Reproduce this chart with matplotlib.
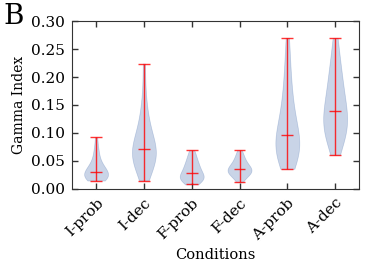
import matplotlib
matplotlib.use('Agg')
import matplotlib.pyplot as plt
import numpy as np

# Condiciones y valores de Gamma Index por condición
conditions = ['I-prob', 'I-dec', 'F-prob', 'F-dec', 'A-prob', 'A-dec']

i_prob = [0.015, 0.017, 0.018, 0.019, 0.020, 0.021, 0.022, 0.023, 0.025,
          0.027, 0.029, 0.031, 0.032, 0.034, 0.036, 0.039, 0.042, 0.046, 0.051,
          0.058, 0.066, 0.075, 0.092]
i_dec = [0.015, 0.025, 0.033, 0.040, 0.045, 0.049, 0.053, 0.056, 0.059, 0.062,
         0.065, 0.068, 0.072, 0.076, 0.080, 0.085, 0.090, 0.096, 0.103, 0.112,
         0.122, 0.135, 0.150, 0.180, 0.224]
f_prob = [0.008, 0.012, 0.015, 0.017, 0.018, 0.019, 0.020, 0.021, 0.023, 0.025,
          0.029, 0.031, 0.034, 0.037, 0.040, 0.043, 0.047, 0.051, 0.056, 0.062,
          0.069]
f_dec = [0.012, 0.018, 0.022, 0.025, 0.027, 0.029, 0.030, 0.031, 0.032, 0.034,
         0.036, 0.037, 0.039, 0.041, 0.043, 0.046, 0.049, 0.053, 0.057, 0.062,
         0.069]
a_prob = [0.036, 0.045, 0.052, 0.057, 0.061, 0.065, 0.069, 0.073, 0.077, 0.082,
          0.087, 0.092, 0.097, 0.103, 0.110, 0.118, 0.127, 0.137, 0.148, 0.160,
          0.175, 0.192, 0.212, 0.238, 0.270]
a_dec = [0.061, 0.075, 0.085, 0.092, 0.098, 0.103, 0.108, 0.113, 0.118, 0.124,
         0.130, 0.135, 0.140, 0.146, 0.153, 0.160, 0.168, 0.177, 0.186, 0.195,
         0.205, 0.216, 0.230, 0.248, 0.270]

yticks = [0.00, 0.05, 0.10, 0.15, 0.20, 0.25, 0.30]

plt.rcParams['font.family'] = 'DejaVu Serif'

fig = plt.figure(figsize=(3.74, 2.77), dpi=100)
ax = fig.add_axes([0.193, 0.318, 0.767, 0.606])

data = [i_prob, i_dec, f_prob, f_dec, a_prob, a_dec]
parts = ax.violinplot(data, showmedians=True)

for body in parts['bodies']:
    body.set_facecolor('#4c72b0')
    body.set_edgecolor('#4c72b0')
    body.set_linewidth(0.5)
    body.set_alpha(0.3)

for key in ['cmins', 'cmaxes', 'cbars', 'cmedians']:
    parts[key].set_color('red')
    parts[key].set_linewidth(1)
    parts[key].set_alpha(0.8)

ax.set_xlim(0.5, 6.5)
ax.set_ylim(0, 0.30)
ax.set_yticks(yticks)
ax.set_yticklabels(['%.2f' % t for t in yticks])
ax.set_xticks(np.arange(1, len(conditions) + 1))
ax.set_xticklabels(conditions, rotation=45, ha='right', rotation_mode='anchor')

ax.tick_params(direction='in', top=True, right=True, length=4, width=1,
               color='#333333', labelsize=11, pad=5)
for sp in ax.spines.values():
    sp.set_color('#333333')

ax.set_ylabel('Gamma Index', fontsize=10)
ax.set_xlabel('Conditions', fontsize=10.5)

fig.text(0.01, 0.99, 'B', fontsize=20, va='top', ha='left')

plt.savefig('out.png', dpi=100)
